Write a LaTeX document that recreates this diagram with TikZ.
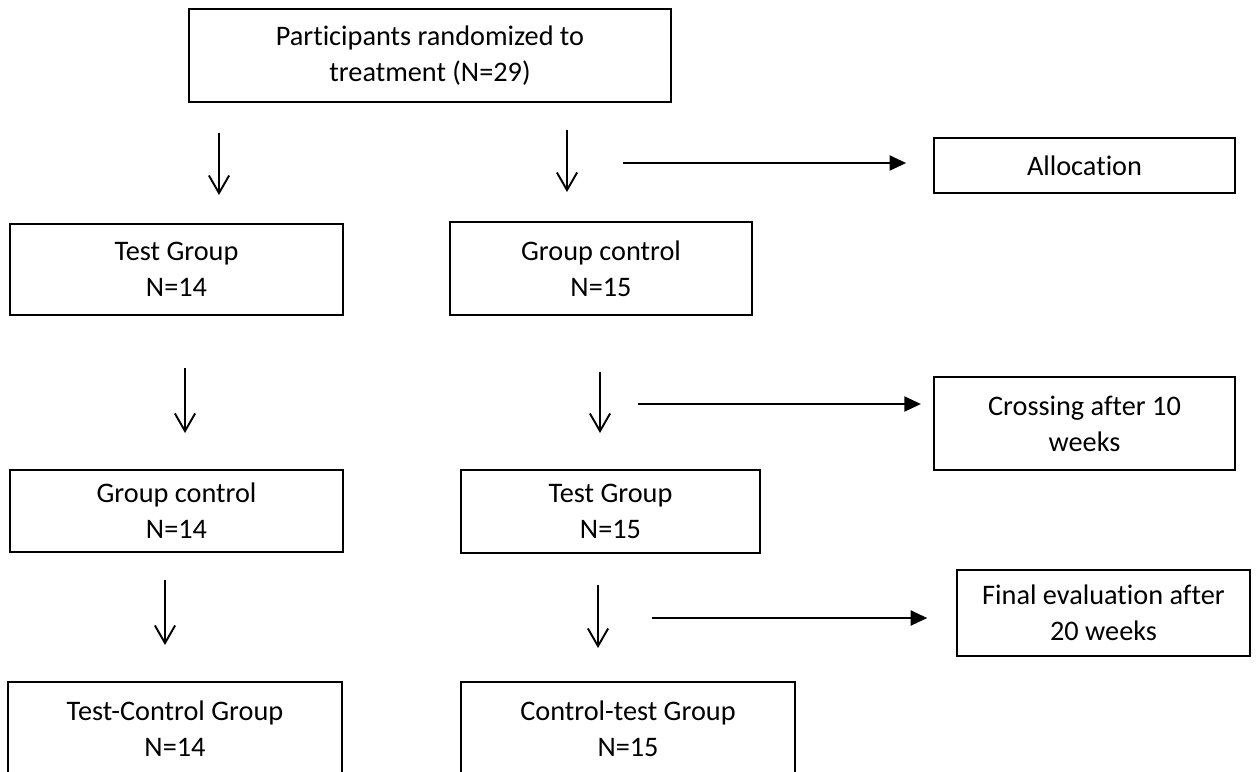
\documentclass[tikz,border=0pt]{standalone}
\usepackage{fontspec}
\setmainfont{Carlito}[Ligatures=NoCommon]
\usetikzlibrary{arrows.meta}

\begin{document}
\begin{tikzpicture}[
  x=0.02cm, y=-0.02cm,
  font=\fontsize{16.1}{20.5}\selectfont,
  box/.style={draw, line width=0.9pt, align=center, inner sep=2pt},
  varr/.style={-{Straight Barb[length=10pt, width=11.5pt]}, line width=1.1pt},
  harr/.style={-{Triangle[length=9.5pt, width=8.5pt]}, line width=1.5pt}
]
\useasboundingbox (0,0) rectangle (1256,771);
\clip (0,0) rectangle (1256,771);

% boxes
\node[box, minimum width=9.64cm, minimum height=1.86cm] (rand) at (430,55.5) {Participants randomized to\\treatment (N=29)};
\node[box, minimum width=6.02cm, minimum height=1.10cm] (alloc) at (1084.5,165.5) {Allocation};

\node[box, minimum width=6.66cm, minimum height=1.82cm] (testA) at (176.5,269.5) {Test Group\\N=14};
\node[box, minimum width=6.04cm, minimum height=1.86cm] (ctrlA) at (601,268.5) {Group control\\N=15};
\node[box, minimum width=6.02cm, minimum height=1.86cm] (cross) at (1084.5,423.5) {Crossing after 10\\weeks};

\node[box, minimum width=6.66cm, minimum height=1.64cm] (ctrlB) at (176.5,511) {Group control\\N=14};
\node[box, minimum width=5.98cm, minimum height=1.66cm] (testB) at (610.5,511.5) {Test Group\\N=15};
\node[box, minimum width=5.86cm, minimum height=1.72cm] (final) at (1103.5,613) {Final evaluation after\\20 weeks};

\node[box, minimum width=6.68cm, minimum height=1.88cm] (tcg) at (175,729) {Test-Control Group\\N=14};
\node[box, minimum width=6.68cm, minimum height=1.88cm] (ctg) at (628,729) {Control-test Group\\N=15};

% free arrow ends
\coordinate (v1a) at (219,133); \coordinate (v1b) at (219,195);
\coordinate (v2a) at (567,130); \coordinate (v2b) at (567,192);
\coordinate (h1) at (623,163);
\coordinate (v3a) at (185,368); \coordinate (v3b) at (185,433);
\coordinate (v4a) at (600,372); \coordinate (v4b) at (600,433);
\coordinate (h2) at (638,404);
\coordinate (v5a) at (165,580); \coordinate (v5b) at (165,645);
\coordinate (v6a) at (598,585); \coordinate (v6b) at (598,648);
\coordinate (h3) at (652,618);

\draw[varr] (v1a) -- (v1b);
\draw[varr] (v2a) -- (v2b);
\draw[harr, shorten >=15.4pt] (h1) -- (h1 -| alloc.west);
\draw[varr] (v3a) -- (v3b);
\draw[varr] (v4a) -- (v4b);
\draw[harr, shorten >=7pt] (h2) -- (h2 -| cross.west);
\draw[varr] (v5a) -- (v5b);
\draw[varr] (v6a) -- (v6b);
\draw[harr, shorten >=16.5pt] (h3) -- (h3 -| final.west);

\end{tikzpicture}
\end{document}
